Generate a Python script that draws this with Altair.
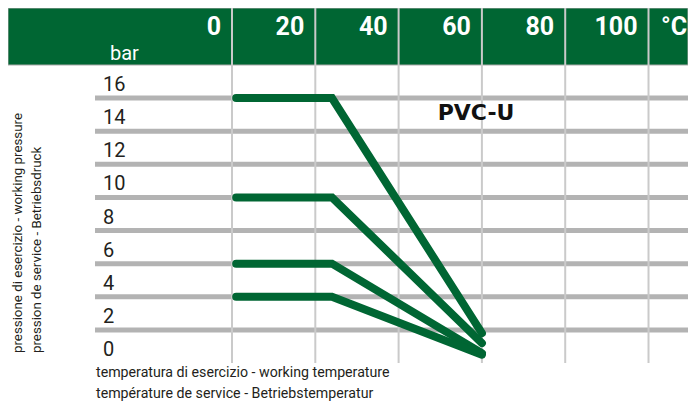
import altair as alt
import pandas as pd

# ---- data ----
header_temps = [0, 20, 40, 60, 80, 100]
header_labels = ["0", "20", "40", "60", "80", "100"]
pressure_ticks = [0, 2, 4, 6, 8, 10, 12, 14, 16]
grid_pressures = [2, 4, 6, 8, 10, 12, 14, 16]

line_temps = [1, 24, 60]
pn16 = [16, 16, 1.8]
pn10 = [10, 10, 1.2]
pn6 = [6, 6, 0.6]
pn4 = [4, 4, 0.5]
series = {"PN16": pn16, "PN10": pn10, "PN6": pn6, "PN4": pn4}

GREEN = "#006633"
NARROW = "Roboto, Liberation Sans, sans-serif"

xscale = alt.Scale(domain=[-53.78, 109.48], nice=False, zero=False)
yscale = alt.Scale(domain=[-2.294, 21.434], nice=False, zero=False)


def X(f):
    return alt.X(f, type="quantitative", scale=xscale, axis=None)


def Y(f):
    return alt.Y(f, type="quantitative", scale=yscale, axis=None)


rows = []
for name, vals in series.items():
    for i, (t, p) in enumerate(zip(line_temps, vals)):
        rows.append({"series": name, "t": t, "p": p, "i": i})
lines_df = pd.DataFrame(rows)

hdr_df = pd.DataFrame({"t": header_temps, "label": header_labels})
ptick_df = pd.DataFrame({"p": pressure_ticks, "label": [str(v) for v in pressure_ticks]})
grid_df = pd.DataFrame({"p": grid_pressures})
one = pd.DataFrame({"a": [0]})

band = alt.Chart(one).mark_rect(color=GREEN, stroke="#aaaaaa", strokeWidth=1).encode(
    x=alt.value(0), x2=alt.value(680), y=alt.value(0), y2=alt.value(57)
)

hgrid = alt.Chart(grid_df).mark_rule(color="#b3b3b3", strokeWidth=5).encode(
    y=Y("p"), x=alt.value(87), x2=alt.value(680)
)

vgrid = alt.Chart(hdr_df).mark_rule(color="#cacaca", strokeWidth=2).encode(
    x=X("t"), y=alt.value(0), y2=alt.value(355)
)

curves = alt.Chart(lines_df).mark_line(
    color=GREEN, strokeWidth=8, strokeCap="round", strokeJoin="miter"
).encode(x=X("t"), y=Y("p"), detail="series:N", order="i:Q")

plabels = alt.Chart(ptick_df).mark_text(
    align="left", baseline="alphabetic", dy=-7, fontSize=20, font=NARROW, color="#231f20"
).encode(x=alt.value(95), y=Y("p"), text="label:N")

hlabels = alt.Chart(hdr_df).mark_text(
    align="right", baseline="alphabetic", dx=-11, fontSize=25, fontWeight="bold",
    font=NARROW, color="white"
).encode(x=X("t"), y=alt.value(27), text="label:N")

deg = alt.Chart(one).mark_text(
    align="right", baseline="alphabetic", fontSize=25, fontWeight="bold",
    font=NARROW, color="white", text="°C"
).encode(x=alt.value(679), y=alt.value(27))

bar = alt.Chart(one).mark_text(
    align="left", baseline="alphabetic", fontSize=20, font=NARROW, color="white", text="bar"
).encode(x=alt.value(102), y=alt.value(52))

pvc = alt.Chart(one).mark_text(
    align="center", baseline="alphabetic", fontSize=22, fontWeight="bold",
    font="DejaVu Sans", color="#111111", text="PVC-U"
).encode(x=alt.datum(58.6), y=alt.datum(14.67))

xtitle = alt.Chart(one).mark_text(
    align="left", baseline="alphabetic", fontSize=14.2, font=NARROW, color="#231f20",
    lineHeight=21,
    text=["temperatura di esercizio - working temperature",
          "température de service - Betriebstemperatur"]
).encode(x=alt.value(88), y=alt.value(369))

ytitle1 = alt.Chart(one).mark_text(
    align="left", baseline="middle", angle=270, fontSize=13.3, font=NARROW, color="#231f20",
    text="pressione di esercizio - working pressure"
).encode(x=alt.value(10), y=alt.value(345))

ytitle2 = alt.Chart(one).mark_text(
    align="left", baseline="middle", angle=270, fontSize=13.3, font=NARROW, color="#231f20",
    text="pression de service - Betriebsdruck"
).encode(x=alt.value(29), y=alt.value(345))

chart = alt.layer(
    band, hgrid, vgrid, curves, plabels, hlabels, deg, bar, pvc, xtitle, ytitle1, ytitle2
).properties(
    width=680, height=393, autosize=alt.AutoSizeParams(type="none"), padding=0,
    background="white"
).configure_view(stroke=None)

chart.save("out.html", embed_options={"renderer": "svg", "actions": False})
